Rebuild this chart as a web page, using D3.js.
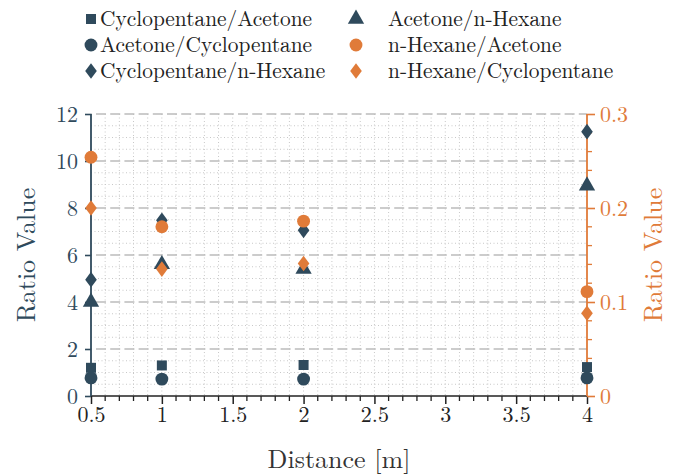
<!DOCTYPE html>
<html><head><meta charset="utf-8">
<script src="https://cdn.jsdelivr.net/npm/d3@7"></script>
<style>
html,body{margin:0;padding:0;background:#fff;}
</style></head>
<body><svg id="c" width="693" height="475"></svg>
<script>
const distances = [0.5, 1, 2, 4];
const cycloAcetone = [1.2, 1.3, 1.32, 1.23];
const acetoneCyclo = [0.77, 0.72, 0.72, 0.77];
const cycloHexane = [4.95, 7.48, 7.05, 11.25];
const acetoneHexane = [4.0, 5.6, 5.4, 8.95];
const hexaneAcetone = [0.254, 0.18, 0.186, 0.111];
const hexaneCyclo = [0.2, 0.135, 0.141, 0.088];
const leftTicks = [0, 2, 4, 6, 8, 10, 12];
const rightTicks = [0, 0.1, 0.2, 0.3];
const xTicks = [0.5, 1, 1.5, 2, 2.5, 3, 3.5, 4];

const FONT = "Latin Modern Roman";
const DARK = "#2f4a5c", ORANGE = "#e07b39";
const series = [
  {name:"Cyclopentane/Acetone", values:cycloAcetone, axis:"L", shape:d3.symbolSquare, size:100, color:DARK},
  {name:"Acetone/Cyclopentane", values:acetoneCyclo, axis:"L", shape:d3.symbolCircle, size:130, color:DARK},
  {name:"Cyclopentane/n-Hexane", values:cycloHexane, axis:"L", shape:"diamond", size:0, color:DARK},
  {name:"Acetone/n-Hexane", values:acetoneHexane, axis:"L", shape:d3.symbolTriangle, size:115, color:DARK},
  {name:"n-Hexane/Acetone", values:hexaneAcetone, axis:"R", shape:d3.symbolCircle, size:130, color:ORANGE},
  {name:"n-Hexane/Cyclopentane", values:hexaneCyclo, axis:"R", shape:"diamond", size:0, color:ORANGE}
];

const svg = d3.select("#c");
const L = 91, R = 587, T = 114, B = 396;
const x = d3.scaleLinear().domain([0.5, 4]).range([L, R]);
const yL = d3.scaleLinear().domain([0, 12]).range([B, T]);
const yR = d3.scaleLinear().domain([0, 0.3]).range([B, T]);

function symPath(s){
  if (s.shape === "diamond") return "M0,-7.8L5.8,0L0,7.8L-5.8,0Z";
  return d3.symbol().type(s.shape).size(s.size)();
}
function fontize(sel, size){
  sel.attr("font-family", FONT).style("font-family", FONT).style("font-size", size + "px");
}

// grid
const g = svg.append("g");
const xMinor = d3.range(6, 40).map(v => v/10);
g.selectAll(".vx").data(xMinor).join("line")
  .attr("x1", d => x(d)).attr("x2", d => x(d)).attr("y1", T).attr("y2", B)
  .attr("stroke", "#c8c8c8").attr("stroke-width", 1).attr("stroke-dasharray", "1,2.5");
const yMinor = d3.range(1, 24).filter(v => v % 4 !== 0).map(v => v/2);
g.selectAll(".hy").data(yMinor).join("line")
  .attr("x1", L).attr("x2", R).attr("y1", d => yL(d)).attr("y2", d => yL(d))
  .attr("stroke", "#c8c8c8").attr("stroke-width", 1).attr("stroke-dasharray", "1,2.5");
g.selectAll(".hm").data(leftTicks.filter(v => v > 0)).join("line")
  .attr("x1", L).attr("x2", R).attr("y1", d => yL(d)).attr("y2", d => yL(d))
  .attr("stroke", "#bcbcbc").attr("stroke-width", 1.6).attr("stroke-dasharray", "10,4.2")
  .attr("stroke-dashoffset", -5);

// x axis
const xAxis = svg.append("g").attr("transform", `translate(0,${B})`)
  .call(d3.axisBottom(x).tickValues(xTicks).tickSize(8).tickPadding(2).tickFormat(d3.format("~g")));
xAxis.attr("font-family", FONT);
xAxis.select(".domain").attr("stroke", "#222").attr("stroke-width", 1.5).attr("d", `M${L},0H${R}`);
xAxis.selectAll(".tick line").attr("stroke", "#222").attr("stroke-width", 1.5);
xAxis.selectAll(".tick text").attr("fill", "#222").call(fontize, 22);
xAxis.selectAll(".minor").data(d3.range(6, 40).filter(v => v % 5 !== 0).map(v => v/10)).join("line")
  .attr("x1", d => x(d)).attr("x2", d => x(d)).attr("y1", 0).attr("y2", 5)
  .attr("stroke", "#222").attr("stroke-width", 1.3);

// left axis
const la = svg.append("g").attr("transform", `translate(${L},0)`)
  .call(d3.axisLeft(yL).tickValues(leftTicks).tickSize(6).tickPadding(7));
la.attr("font-family", FONT);
la.select(".domain").attr("stroke", DARK).attr("stroke-width", 1.8).attr("d", `M0,${T}V${B}`);
la.selectAll(".tick line").attr("stroke", DARK).attr("stroke-width", 1.6);
la.selectAll(".tick text").attr("fill", DARK).call(fontize, 22);

// right axis
const ra = svg.append("g").attr("transform", `translate(${R},0)`)
  .call(d3.axisRight(yR).tickValues(rightTicks).tickSize(8).tickPadding(5).tickFormat(d3.format("~g")));
ra.attr("font-family", FONT);
ra.select(".domain").attr("stroke", ORANGE).attr("stroke-width", 1.8).attr("d", `M0,${T}V${B}`);
ra.selectAll(".tick line").attr("stroke", ORANGE).attr("stroke-width", 1.6);
ra.selectAll(".tick text").attr("fill", ORANGE).call(fontize, 22);
ra.selectAll(".minor").data(d3.range(1, 15).filter(v => v % 5 !== 0).map(v => v/50)).join("line")
  .attr("x1", 0).attr("x2", 5).attr("y1", d => yR(d)).attr("y2", d => yR(d))
  .attr("stroke", ORANGE).attr("stroke-width", 1.3);

// titles
svg.append("text").attr("transform", `translate(35,255) rotate(-90)`).attr("text-anchor", "middle")
  .attr("fill", DARK).call(fontize, 26).text("Ratio Value");
svg.append("text").attr("transform", `translate(662,255) rotate(-90)`).attr("text-anchor", "middle")
  .attr("fill", ORANGE).call(fontize, 26).text("Ratio Value");
svg.append("text").attr("x", 339).attr("y", 468).attr("text-anchor", "middle")
  .attr("fill", "#333").call(fontize, 26).text("Distance [m]");

// points
const pts = svg.append("g");
series.forEach(s => {
  const ys = s.axis === "L" ? yL : yR;
  pts.selectAll(null).data(s.values).join("path")
    .attr("d", symPath(s))
    .attr("transform", (v, i) => `translate(${x(distances[i])},${ys(v)})`)
    .attr("fill", s.color);
});

// legend
const leg = svg.append("g");
series.forEach((s, i) => {
  const col = i < 3 ? 0 : 1, row = i % 3;
  const lx = col === 0 ? 91 : 356, ly = 19 + row * 26;
  leg.append("path").attr("d", symPath(s)).attr("transform", `translate(${lx},${ly})`).attr("fill", s.color);
  leg.append("text").attr("x", lx + 9 + (col ? 23 : 0)).attr("y", ly).attr("dy", "0.33em")
    .attr("fill", "#222").call(fontize, 21.4).text(s.name);
});
</script></body></html>
